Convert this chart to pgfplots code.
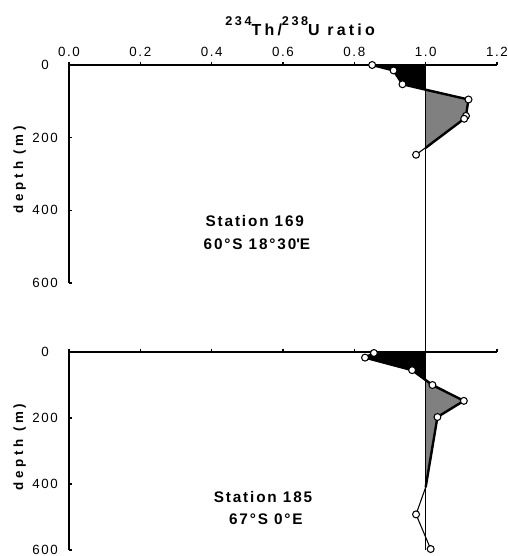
\documentclass[border=0pt]{standalone}
\usepackage{fontspec}
\setmainfont{Liberation Sans}[LetterSpace=12]
\newfontfamily\wide{Liberation Sans}[LetterSpace=28]
\newfontfamily\ttl{Liberation Sans}[LetterSpace=20]
\usepackage{pgfplots}
\pgfplotsset{compat=1.18}
\tikzset{stn/.style={font=\fontsize{11.5}{13}\selectfont\bfseries}}
\newcommand{\sups}[1]{\raisebox{7.5pt}{\fontsize{9.5}{10}\selectfont\bfseries #1}}
\begin{document}
\begin{tikzpicture}
\useasboundingbox (-51.75pt,48.75pt) rectangle (328.5pt,-368.25pt);
\pgfplotsset{
  prof/.style={scale only axis, width=321pt, anchor=north west,
    xmin=0, xmax=1.2, ymin=0, ymax=600, y dir=reverse,
    axis x line*=top, axis y line*=left, axis line style={-, line width=0.9pt},
    xtick={0,0.2,0.4,0.6,0.8,1.0,1.2}, ytick={0,200,400,600},
    xtick align=outside, ytick align=inside, major tick length=2.5pt,
    tick style={black, line width=0.9pt},
    tick label style={font=\fontsize{10}{11}\selectfont},
    /pgf/number format/assume math mode=true,
    xticklabel style={/pgf/number format/fixed, /pgf/number format/fixed zerofill,
      /pgf/number format/precision=1},
    yticklabel style={anchor=center, xshift=-18pt},
    ylabel={depth (m)},
    ylabel style={font=\wide\fontsize{10}{12}\selectfont\bfseries,
      at={(axis description cs:-0.115,0.52)}, anchor=center},
    clip=false},
  blk/.style={fill=black, draw=none, forget plot},
  gry/.style={fill=gray, draw=none, forget plot},
  edge/.style={black, line width=1.8pt, forget plot},
  thin/.style={black, line width=0.8pt, forget plot},
  pts/.style={only marks, mark=*, mark size=2.6pt,
    mark options={fill=white, draw=black, line width=0.8pt}, forget plot}
}
% Station 169
\begin{axis}[prof, at={(0,0)}, height=163.5pt,
  title={\sups{234}Th/\sups{238}U ratio},
  title style={font=\ttl\fontsize{12}{13}\selectfont\bfseries,
    at={(axis description cs:0.54,1)}, anchor=base, yshift=16.5pt}]
\addplot[blk] coordinates {(1,0) (0.85,0) (0.91,15) (0.935,53) (1,68)};
\addplot[gry] coordinates {(1,68) (1.12,95) (1.113,140) (1.108,148) (1,228)};
\addplot[edge] coordinates {(0.85,0) (0.91,15) (0.935,53) (1,68) (1.12,95) (1.113,140) (1.108,148) (1,228)};
\addplot[thin] coordinates {(1,0) (1,790)};
\addplot[thin] coordinates {(0.85,0) (0.91,15) (0.935,53) (1.12,95) (1.113,140) (1.108,148) (0.973,247)};
\addplot[pts] coordinates {(0.85,0) (0.91,15) (0.935,53) (1.12,95) (1.113,140) (1.108,148) (0.973,247)};
\node[stn] at (axis cs:0.521,430) {Station 169};
\node[stn] at (axis cs:0.527,493) {60°S 18°30\textquotesingle E};
\end{axis}
% Station 185
\begin{axis}[prof, at={(0,-215.25pt)}, height=148.5pt, xticklabels={}]
\addplot[blk] coordinates {(1,0) (0.855,0) (0.83,17) (0.962,55) (1,85)};
\addplot[gry] coordinates {(1,85) (1.019,100) (1.107,148) (1.033,197) (1,410)};
\addplot[edge] coordinates {(0.855,3) (0.83,17) (0.962,55) (1,85) (1.019,100) (1.107,148) (1.033,197) (1,410)};
\addplot[thin] coordinates {(1,0) (1,600)};
\addplot[thin] coordinates {(0.855,3) (0.83,17) (0.962,55) (1.019,100) (1.107,148) (1.033,197) (1,410) (0.973,492) (1.014,597)};
\addplot[pts] coordinates {(0.855,3) (0.83,17) (0.962,55) (1.019,100) (1.107,148) (1.033,197) (0.973,492) (1.014,597)};
\node[stn] at (axis cs:0.544,439) {Station 185};
\node[stn] at (axis cs:0.552,506) {67°S 0°E};
\end{axis}
\end{tikzpicture}
\end{document}
